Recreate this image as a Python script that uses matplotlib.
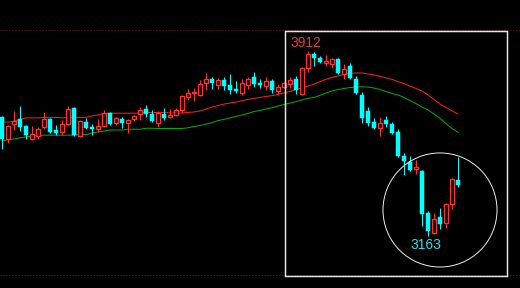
import matplotlib
matplotlib.use('Agg')
import matplotlib.pyplot as plt
from matplotlib.patches import Rectangle, Ellipse
import numpy as np

# daily candles
opens = [3645, 3556, 3616, 3637, 3608, 3556, 3568, 3604, 3637, 3592,
         3584, 3616, 3681, 3568, 3624, 3604, 3596, 3608, 3661, 3620,
         3637, 3620, 3637, 3657, 3677, 3657, 3620, 3657, 3645, 3653,
         3673, 3726, 3742, 3734, 3782, 3799, 3774, 3794, 3774, 3758,
         3742, 3774, 3807, 3782, 3770, 3790, 3750, 3766, 3778, 3799,
         3738, 3843, 3900, 3884, 3863, 3859, 3880, 3819, 3851, 3799,
         3734, 3669, 3624, 3600, 3633, 3616, 3584, 3487, 3462, 3434,
         3426, 3256, 3175, 3240, 3215, 3292, 3390]
highs = [3649, 3612, 3669, 3689, 3612, 3608, 3604, 3665, 3641, 3612,
         3633, 3689, 3685, 3633, 3641, 3616, 3637, 3673, 3665, 3645,
         3645, 3637, 3653, 3685, 3693, 3673, 3669, 3681, 3677, 3681,
         3734, 3758, 3762, 3794, 3823, 3807, 3803, 3807, 3819, 3790,
         3799, 3807, 3827, 3799, 3807, 3799, 3778, 3786, 3807, 3811,
         3847, 3912, 3908, 3892, 3896, 3884, 3884, 3859, 3863, 3811,
         3746, 3685, 3641, 3645, 3649, 3624, 3596, 3499, 3487, 3471,
         3430, 3264, 3256, 3276, 3296, 3398, 3483]
lows = [3515, 3539, 3592, 3588, 3556, 3552, 3556, 3596, 3580, 3572,
        3572, 3612, 3568, 3564, 3596, 3572, 3584, 3604, 3612, 3612,
        3600, 3580, 3629, 3633, 3645, 3624, 3604, 3633, 3641, 3649,
        3661, 3714, 3709, 3730, 3754, 3758, 3758, 3754, 3738, 3742,
        3734, 3758, 3766, 3762, 3754, 3742, 3734, 3762, 3762, 3738,
        3734, 3827, 3851, 3863, 3851, 3843, 3819, 3799, 3799, 3738,
        3620, 3608, 3596, 3568, 3604, 3576, 3483, 3410, 3426, 3414,
        3203, 3163, 3171, 3191, 3195, 3272, 3361]
closes = [3556, 3608, 3629, 3604, 3572, 3576, 3596, 3637, 3584, 3580,
          3616, 3677, 3572, 3629, 3600, 3596, 3608, 3661, 3616, 3641,
          3620, 3633, 3649, 3673, 3657, 3629, 3661, 3641, 3653, 3673,
          3730, 3742, 3746, 3778, 3799, 3782, 3794, 3770, 3754, 3750,
          3782, 3799, 3778, 3774, 3790, 3754, 3766, 3782, 3794, 3754,
          3843, 3900, 3884, 3867, 3871, 3880, 3823, 3839, 3803, 3742,
          3641, 3620, 3600, 3620, 3616, 3580, 3487, 3466, 3430, 3442,
          3252, 3183, 3232, 3211, 3292, 3394, 3369]

# moving averages
ma_red = [3624, 3624, 3628, 3635, 3641, 3641, 3641, 3643, 3643, 3643,
          3641, 3643, 3643, 3643, 3643, 3649, 3653, 3659, 3660, 3660,
          3660, 3660, 3660, 3661, 3663, 3663, 3663, 3663, 3661, 3661,
          3661, 3663, 3665, 3669, 3677, 3685, 3691, 3697, 3701, 3705,
          3711, 3716, 3720, 3724, 3728, 3731, 3736, 3742, 3748, 3756,
          3762, 3770, 3778, 3788, 3797, 3805, 3811, 3817, 3821, 3823,
          3823, 3819, 3815, 3809, 3803, 3797, 3788, 3780, 3770, 3760,
          3750, 3734, 3716, 3697, 3683, 3669, 3657]
ma_green = [3548, 3552, 3556, 3560, 3564, 3567, 3570, 3571, 3571, 3571,
            3571, 3571, 3571, 3573, 3573, 3580, 3584, 3588, 3592, 3592,
            3592, 3595, 3595, 3595, 3599, 3599, 3598, 3598, 3598, 3598,
            3598, 3601, 3606, 3610, 3616, 3622, 3630, 3635, 3641, 3647,
            3653, 3659, 3667, 3671, 3677, 3682, 3689, 3695, 3701, 3707,
            3714, 3720, 3724, 3732, 3742, 3750, 3756, 3760, 3764, 3766,
            3767, 3766, 3762, 3756, 3748, 3740, 3734, 3724, 3711, 3699,
            3685, 3673, 3657, 3639, 3618, 3598, 3583]

# two price levels marked with dotted lines
levels = [3999, 3003]

UP = '#ff3232'
DOWN = '#00ffff'
PX = 1 / 1.389  # one pixel in points

fig = plt.figure(figsize=(5.2, 2.88), dpi=100, facecolor='black')
ax = fig.add_axes([0, 0, 1, 1], facecolor='black')

for lv in levels:
    ax.axhline(lv, color='#9a1c1c', lw=PX, linestyle=(0, (1, 2)), zorder=1)

idx = np.arange(len(closes))
ax.plot(idx, ma_red, color='#ff1e1e', lw=PX, zorder=2)
ax.plot(idx, ma_green, color='#00b000', lw=PX, zorder=2)

# candles
w = 0.72
for i in idx:
    o, h, l, c = opens[i], highs[i], lows[i], closes[i]
    if c >= o:
        ax.vlines(i, c, h, color=UP, lw=PX, zorder=3)
        ax.vlines(i, l, o, color=UP, lw=PX, zorder=3)
        ax.add_patch(Rectangle((i - w / 2, o), w, max(c - o, 2), facecolor='black',
                               edgecolor=UP, lw=PX * 1.3, zorder=4))
    else:
        ax.vlines(i, l, h, color=DOWN, lw=PX, zorder=3)
        ax.add_patch(Rectangle((i - w / 2, c), w, o - c, facecolor=DOWN,
                               edgecolor=DOWN, lw=PX * 0.5, zorder=4))

# highlight box, circle and extreme labels
ax.add_patch(Rectangle((47.1, 3001), 37.1, 992, fill=False, edgecolor='#e6e6e6',
                       lw=PX * 1.5, zorder=5))
ax.add_patch(Ellipse((73, 3268), 19, 462, fill=False, edgecolor='#e6e6e6',
                     lw=PX, zorder=5))

hi_i = int(np.argmax(highs))
lo_i = int(np.argmin(lows))
ax.text(hi_i - 0.35, highs[hi_i] + 32, str(highs[hi_i]), color='#e83a3a', fontsize=10,
        family='Liberation Sans', ha='center', va='center', zorder=6)
ax.text(lo_i - 0.4, lows[lo_i] - 35, str(lows[lo_i]), color='#20e0e8', fontsize=10,
        family='Liberation Sans', ha='center', va='center', zorder=6)

ax.set_xlim(-1 / 3, 86 + 1 / 3)
ax.set_ylim(2952, 4118.5)
ax.axis('off')

fig.savefig('out.png', dpi=100, facecolor='black')
